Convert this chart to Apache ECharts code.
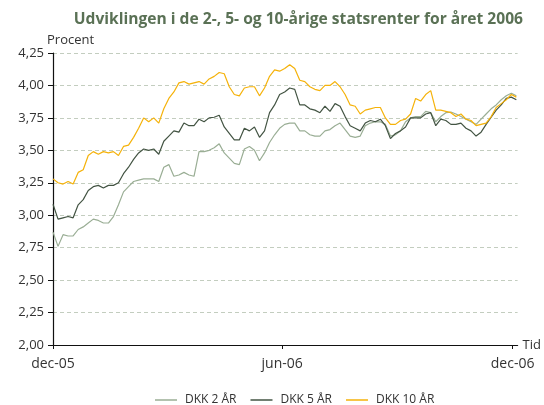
<!DOCTYPE html>
<html>
<head>
<meta charset="utf-8">
<script src="https://cdn.jsdelivr.net/npm/echarts@6/dist/echarts.min.js"></script>
<style>
  html, body { margin: 0; padding: 0; background: #fff; }
  #main { width: 544px; height: 405px; }
</style>
</head>
<body>
<div id="main"></div>
<script>
// dage efter 1. dec 2005, en prøve hver 4. dag
var days = Array.from({ length: 93 }, function (_, i) { return i * 4; });

var dkk2 = [
  2.87, 2.76, 2.85, 2.84, 2.84, 2.89, 2.91, 2.94, 2.97, 2.96, 2.94, 2.94, 2.99, 3.08, 3.18, 3.22,
  3.26, 3.27, 3.28, 3.28, 3.28, 3.26, 3.37, 3.39, 3.30, 3.31, 3.33, 3.31, 3.30, 3.49, 3.49, 3.50,
  3.52, 3.55, 3.48, 3.44, 3.40, 3.39, 3.51, 3.53, 3.50, 3.42, 3.48, 3.56, 3.62, 3.67, 3.70, 3.71,
  3.71, 3.65, 3.65, 3.62, 3.61, 3.61, 3.65, 3.66, 3.69, 3.71, 3.66, 3.61, 3.60, 3.61, 3.69, 3.71,
  3.72, 3.72, 3.70, 3.61, 3.62, 3.65, 3.72, 3.75, 3.76, 3.76, 3.80, 3.79, 3.72, 3.76, 3.79, 3.795,
  3.78, 3.76, 3.74, 3.72, 3.70, 3.74, 3.78, 3.82, 3.85, 3.89, 3.92, 3.94, 3.92
];

var dkk5 = [
  3.085, 2.97, 2.98, 2.99, 2.98, 3.08, 3.12, 3.19, 3.22, 3.23, 3.21, 3.23, 3.23, 3.25, 3.32, 3.37,
  3.43, 3.48, 3.51, 3.50, 3.51, 3.47, 3.57, 3.61, 3.65, 3.64, 3.71, 3.69, 3.69, 3.74, 3.72, 3.75,
  3.755, 3.77, 3.68, 3.63, 3.58, 3.58, 3.67, 3.65, 3.68, 3.60, 3.65, 3.79, 3.85, 3.93, 3.95, 3.98,
  3.97, 3.85, 3.85, 3.82, 3.81, 3.79, 3.84, 3.80, 3.86, 3.84, 3.76, 3.69, 3.67, 3.65, 3.71, 3.73,
  3.72, 3.74, 3.69, 3.59, 3.63, 3.65, 3.68, 3.75, 3.75, 3.75, 3.78, 3.79, 3.69, 3.74, 3.73, 3.70,
  3.70, 3.71, 3.67, 3.65, 3.61, 3.64, 3.70, 3.755, 3.81, 3.85, 3.90, 3.91, 3.89
];

var dkk10 = [
  3.28, 3.25, 3.24, 3.26, 3.24, 3.33, 3.35, 3.46, 3.49, 3.47, 3.49, 3.48, 3.49, 3.46, 3.53, 3.54,
  3.60, 3.67, 3.75, 3.72, 3.75, 3.71, 3.82, 3.90, 3.95, 4.02, 4.03, 4.01, 4.02, 4.03, 4.01, 4.05,
  4.07, 4.10, 4.09, 3.99, 3.93, 3.92, 3.98, 3.99, 3.99, 3.92, 3.98, 4.07, 4.12, 4.11, 4.13, 4.16,
  4.13, 4.04, 4.03, 3.99, 3.97, 3.96, 4.00, 4.00, 4.03, 3.99, 3.93, 3.85, 3.84, 3.78, 3.81, 3.82,
  3.83, 3.83, 3.75, 3.70, 3.70, 3.73, 3.74, 3.78, 3.90, 3.88, 3.93, 3.96, 3.81, 3.81, 3.80, 3.79,
  3.76, 3.78, 3.74, 3.73, 3.69, 3.70, 3.71, 3.76, 3.83, 3.86, 3.89, 3.93, 3.91
];

var tickDays = [0, 182, 365];
var tickLabels = ['dec-05', 'jun-06', 'dec-06'];

var names = ['DKK 2 ÅR', 'DKK 5 ÅR', 'DKK 10 ÅR'];
var colors = ['#9aae95', '#435443', '#f5b20a'];

function pairs(vals) {
  return vals.map(function (v, i) { return [days[i], v]; });
}

var font = 'Open Sans';
var myChart = echarts.init(document.getElementById('main'));
myChart.setOption({
  animation: false,
  textStyle: { fontFamily: font },
  title: {
    text: 'Udviklingen i de 2-, 5- og 10-årige statsrenter for året 2006',
    right: 16,
    top: 7,
    textStyle: { color: '#5a7155', fontSize: 15.6, fontWeight: 'bold', fontFamily: font }
  },
  color: colors,
  grid: { left: 53, right: 22, top: 53, bottom: 60, containLabel: false },
  legend: {
    top: 389,
    left: 150,
    icon: 'rect',
    itemWidth: 22,
    itemHeight: 1.5,
    itemGap: 14,
    textStyle: { color: '#333', fontSize: 12, fontFamily: font, padding: [0, 0, 0, 3] },
    data: names
  },
  xAxis: {
    type: 'value',
    min: 0,
    max: 369,
    name: 'Tid',
    nameLocation: 'end',
    nameGap: 5,
    nameTextStyle: { color: '#333', fontSize: 13 },
    axisLine: { lineStyle: { color: '#111', width: 1.2 } },
    axisTick: { show: true, customValues: tickDays, length: 4, inside: false, lineStyle: { color: '#111' } },
    axisLabel: {
      customValues: tickDays,
      color: '#333',
      fontSize: 14,
      margin: 12,
      formatter: function (v) { return tickLabels[tickDays.indexOf(v)] || ''; }
    },
    splitLine: { show: false }
  },
  yAxis: {
    type: 'value',
    min: 2,
    max: 4.25,
    interval: 0.25,
    name: 'Procent',
    nameLocation: 'end',
    nameGap: 5,
    nameTextStyle: { color: '#333', fontSize: 13, align: 'left', padding: [0, 0, 0, -6] },
    axisLine: { show: true, lineStyle: { color: '#111', width: 1.2 } },
    axisTick: { show: true, length: 5, lineStyle: { color: '#111' } },
    axisLabel: {
      color: '#333',
      fontSize: 13,
      margin: 9,
      formatter: function (v) { return v.toFixed(2).replace('.', ','); }
    },
    splitLine: { show: true, lineStyle: { color: '#c3cdbf', type: [4, 3], width: 1 } }
  },
  series: [
    { name: names[0], type: 'line', data: pairs(dkk2), showSymbol: false, lineStyle: { width: 1.2 }, z: 2 },
    { name: names[1], type: 'line', data: pairs(dkk5), showSymbol: false, lineStyle: { width: 1.2 }, z: 3 },
    { name: names[2], type: 'line', data: pairs(dkk10), showSymbol: false, lineStyle: { width: 1.2 }, z: 4 }
  ]
});
</script>
</body>
</html>
